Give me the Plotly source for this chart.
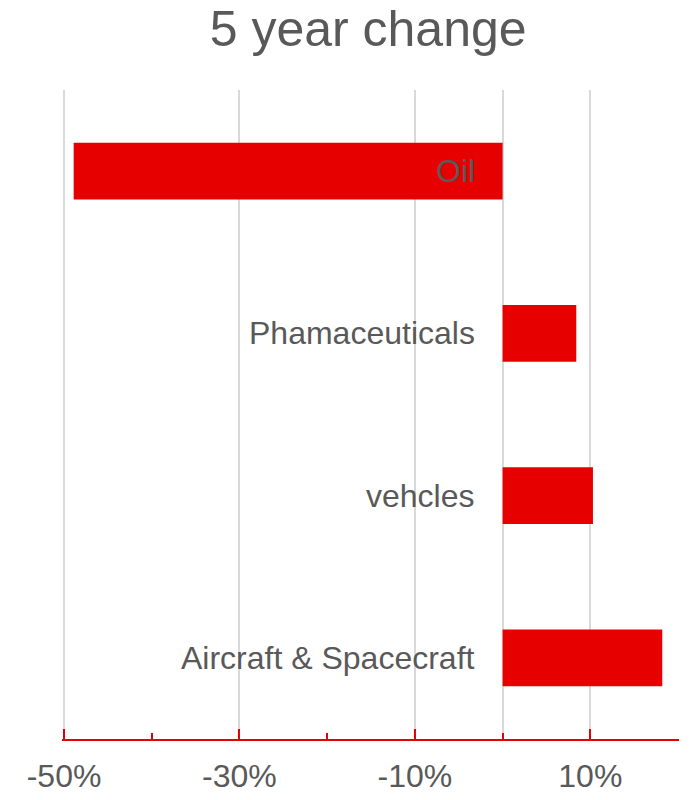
import plotly.graph_objects as go

# data
categories = ["Oil", "Phamaceuticals", "vehcles", "Aircraft & Spacecraft"]
changes = [-0.489, 0.084, 0.103, 0.182]
tick_values = [-0.5, -0.3, -0.1, 0.1]
tick_labels = ["-50%", "-30%", "-10%", "10%"]
minor_ticks = [-0.4, -0.2, 0.0, 0.2]

RED = "#E60000"
GREY = "#595959"
FONT = "Liberation Sans, Arial, sans-serif"

fig = go.Figure(go.Bar(
    x=changes,
    y=categories,
    orientation="h",
    width=0.35,
    marker=dict(color=RED, line=dict(width=0)),
    hoverinfo="skip",
))

# category labels sit just left of the zero line
for cat in categories:
    fig.add_annotation(
        x=0, y=cat, xref="x", yref="y",
        text=cat, showarrow=False,
        xanchor="right", yanchor="middle", xshift=-26,
        font=dict(size=32, color=GREY, family=FONT),
    )

fig.update_layout(
    width=692,
    height=800,
    paper_bgcolor="white",
    plot_bgcolor="white",
    margin=dict(l=62, r=13, t=90, b=61, autoexpand=False),
    showlegend=False,
    font=dict(family=FONT, color=GREY),
    title=dict(
        text="5 year change",
        x=0.532, xanchor="center",
        y=1 - 28 / 800, yanchor="middle", yref="container",
        font=dict(size=50, color=GREY, family=FONT),
    ),
)

# range padded a hair so the -50% gridline is not clipped at the edge
fig.update_xaxes(
    range=[-0.5023, 0.2011],
    tickvals=tick_values,
    ticktext=tick_labels,
    tickfont=dict(size=32, color=GREY, family=FONT),
    ticks="inside",
    ticklen=10,
    tickwidth=2,
    tickcolor=RED,
    ticklabelstandoff=8,
    minor=dict(tickvals=minor_ticks, ticks="inside", ticklen=6,
               tickwidth=2, tickcolor=RED, showgrid=False),
    showgrid=True,
    gridcolor="#D9D9D9",
    gridwidth=1.5,
    zeroline=True,
    zerolinecolor="#D9D9D9",
    zerolinewidth=1.5,
    showline=True,
    linecolor=RED,
    linewidth=2,
    automargin=False,
    fixedrange=True,
)

fig.update_yaxes(
    categoryorder="array",
    categoryarray=categories,
    autorange="reversed",
    range=[3.5, -0.5],
    showticklabels=False,
    showgrid=False,
    zeroline=False,
    showline=False,
    ticks="",
    automargin=False,
    fixedrange=True,
)

fig.write_html(
    "out.html",
    config={"displayModeBar": False},
    post_script="document.body.style.margin='0';",
)
